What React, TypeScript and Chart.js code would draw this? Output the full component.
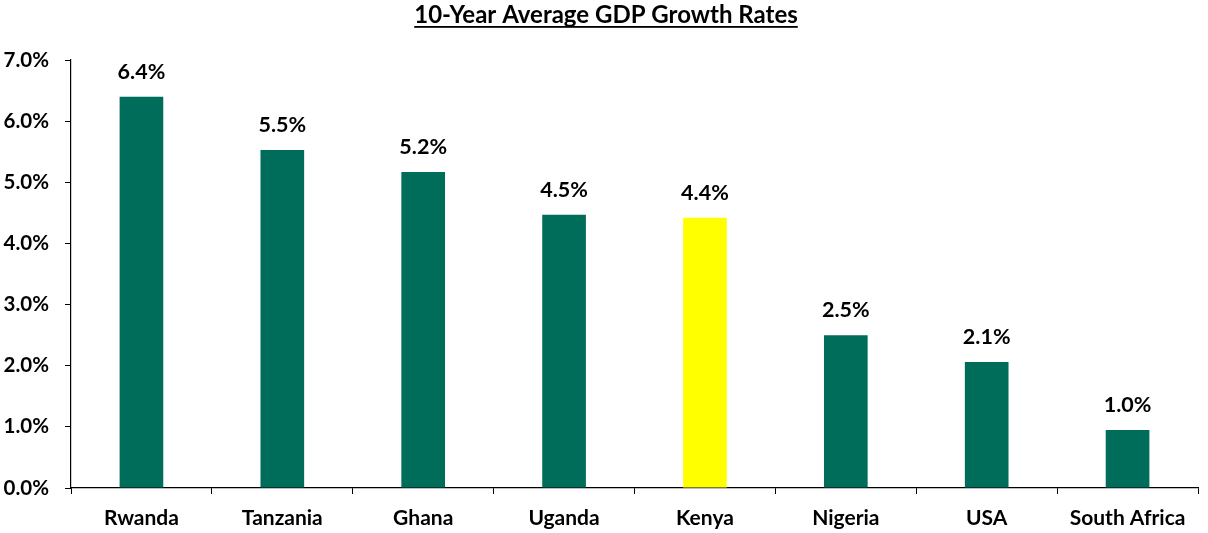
import React, { useEffect, useRef } from "react";
import { Chart, registerables } from "chart.js";

Chart.register(...registerables);

const TITLE = "10-Year Average GDP Growth Rates";
const categories = ["Rwanda", "Tanzania", "Ghana", "Uganda", "Kenya", "Nigeria", "USA", "South Africa"];
const growthValues = [6.4, 5.53, 5.17, 4.47, 4.42, 2.5, 2.06, 0.95];
const valueLabels = ["6.4%", "5.5%", "5.2%", "4.5%", "4.4%", "2.5%", "2.1%", "1.0%"];
const highlightCategory = "Kenya";

const TEAL = "#006D5B";
const YELLOW = "#FFFF00";
const FONT = "Lato, 'Open Sans', sans-serif";

export default function App() {
  const ref = useRef<HTMLCanvasElement | null>(null);

  useEffect(() => {
    document.body.style.margin = "0";
    const canvas = ref.current;
    if (!canvas) return;

    const titlePlugin = {
      id: "underlinedTitle",
      afterDraw(chart: any) {
        const ctx = chart.ctx;
        ctx.save();
        ctx.font = `bold 24px ${FONT}`;
        ctx.fillStyle = "#000";
        ctx.textAlign = "center";
        ctx.textBaseline = "alphabetic";
        const cx = 606;
        const y = 23;
        ctx.fillText(TITLE, cx, y);
        const w = ctx.measureText(TITLE).width;
        ctx.fillRect(cx - w / 2, y + 3, w, 1.8);
        ctx.restore();
      },
    };

    const labelPlugin = {
      id: "valueLabels",
      afterDatasetsDraw(chart: any) {
        const ctx = chart.ctx;
        const meta = chart.getDatasetMeta(0);
        ctx.save();
        ctx.font = `bold 21.5px ${FONT}`;
        ctx.fillStyle = "#000";
        ctx.textAlign = "center";
        ctx.textBaseline = "middle";
        meta.data.forEach((bar: any, i: number) => {
          ctx.fillText(valueLabels[i], bar.x, bar.y - 25);
        });
        ctx.restore();
      },
    };

    const chart = new Chart(canvas, {
      type: "bar",
      data: {
        labels: categories,
        datasets: [
          {
            data: growthValues,
            backgroundColor: categories.map((c) => (c === highlightCategory ? YELLOW : TEAL)),
            borderWidth: 0,
            barPercentage: 0.31,
            categoryPercentage: 1,
          },
        ],
      },
      options: {
        responsive: true,
        maintainAspectRatio: false,
        animation: false,
        layout: { padding: { top: 60, right: 10, left: 0, bottom: 0 } },
        plugins: {
          legend: { display: false },
          title: { display: false },
          tooltip: { enabled: false },
        },
        scales: {
          x: {
            grid: {
              offset: true,
              drawOnChartArea: false,
              drawTicks: true,
              tickLength: 6,
              color: "#000",
            },
            border: { display: true, color: "#000", width: 1.2 },
            ticks: {
              color: "#000",
              font: { family: FONT, size: 21, weight: "bold" },
              padding: 12,
              maxRotation: 0,
            },
            afterFit(scale: any) {
              scale.height = 45;
            },
          },
          y: {
            min: 0,
            max: 7,
            grid: {
              drawOnChartArea: false,
              drawTicks: true,
              tickLength: 6,
              color: "#000",
            },
            border: { display: true, color: "#000", width: 1.2 },
            ticks: {
              stepSize: 1,
              color: "#000",
              font: { family: FONT, size: 20.5, weight: "bold" },
              padding: 16,
              callback: (v: any) => Number(v).toFixed(1) + "%",
            },
            afterFit(scale: any) {
              scale.width = 71;
            },
          },
        },
      },
      plugins: [titlePlugin, labelPlugin],
    });

    return () => chart.destroy();
  }, []);

  return (
    <div style={{ position: "relative", width: "1208px", height: "533px" }}>
      <canvas ref={ref} />
    </div>
  );
}
